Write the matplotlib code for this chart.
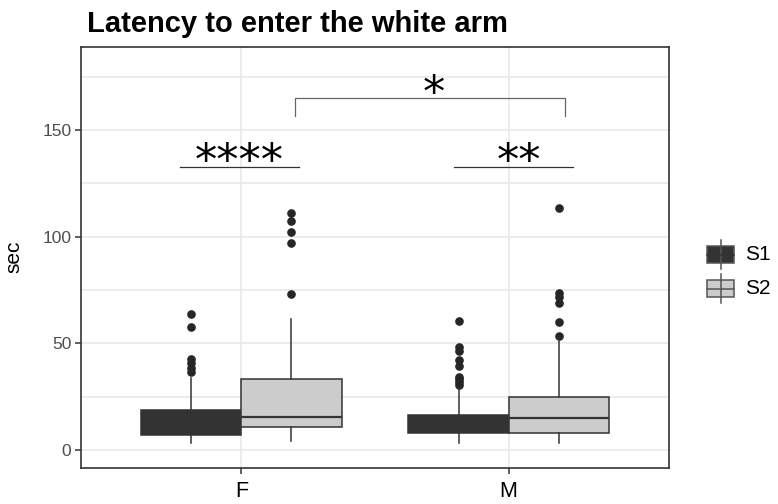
import matplotlib
matplotlib.use("Agg")
import matplotlib.pyplot as plt
from matplotlib.patches import Rectangle
from matplotlib.lines import Line2D

plt.rcParams['font.family'] = ['Liberation Sans', 'DejaVu Sans']

# ---- data ----
sexes = ["F", "M"]
sessions = ["S1", "S2"]
fill_colors = ["#333333", "#cccccc"]

# per box: [F-S1, F-S2, M-S1, M-S2]
q1 = [7.0, 10.9, 8.0, 8.0]
med = [11.0, 15.5, 12.0, 15.0]
q3 = [18.7, 33.3, 16.4, 24.8]
whislo = [3.3, 4.2, 3.3, 3.3]
whishi = [34.0, 61.4, 29.0, 52.5]
fliers = [
    [36.6, 38.4, 40.8, 42.7, 57.6, 64.0],
    [73.1, 97.0, 102.0, 107.4, 111.0],
    [30.5, 31.9, 33.3, 34.3, 39.4, 42.2, 46.4, 48.3, 60.5],
    [53.3, 60.0, 69.0, 71.9, 73.6, 113.5],
]

y_ticks = [0, 50, 100, 150]
y_minor = [25, 75, 125, 175]
title = "Latency to enter the white arm"
ylabel = "sec"

# significance annotations
within_labels = ["****", "**"]
within_line_y = 132.7
within_text_base = 129.0
between_label = "*"
bracket_top = 165.0
bracket_bottom = 156.7
between_text_base = 160.9

# ---- figure ----
fig = plt.figure(figsize=(7.78, 5.04), dpi=100)
ax = fig.add_axes([81/778, 1-468/504, (669-81)/778, (468-47)/504])

dodge = 0.1875
width = 0.375
stats = []
positions = []
for i, sx in enumerate(sexes):
    for j, ss in enumerate(sessions):
        k = i*2 + j
        stats.append(dict(q1=q1[k], med=med[k], q3=q3[k], whislo=whislo[k],
                          whishi=whishi[k], fliers=fliers[k]))
        positions.append(i + 1 + (j - 0.5) * 2 * dodge)

edge = "#333333"
bp = ax.bxp(stats, positions=positions, widths=width, patch_artist=True,
            showcaps=False, manage_ticks=False,
            boxprops=dict(edgecolor=edge, linewidth=1.1),
            whiskerprops=dict(color=edge, linewidth=1.1),
            medianprops=dict(color=edge, linewidth=1.6),
            flierprops=dict(marker='o', markerfacecolor='#262626', markeredgecolor='#262626',
                            markersize=5.2))
for k, patch in enumerate(bp['boxes']):
    patch.set_facecolor(fill_colors[k % 2])
    patch.set_zorder(3)
for l in bp['medians'] + bp['whiskers']:
    l.set_zorder(3)

ax.set_xlim(0.4, 2.6)
ax.set_ylim(-8.4, 188.9)
ax.set_xticks([1, 2])
ax.set_xticklabels(sexes, fontsize=15.5, color='black')
ax.set_yticks(y_ticks)
ax.set_yticks(y_minor, minor=True)
ax.set_yticklabels([str(t) for t in y_ticks], fontsize=12.5, color='#4d4d4d')
ax.tick_params(axis='both', which='major', length=4, width=1.1, color='#333333')
ax.tick_params(axis='y', which='minor', length=0)
ax.tick_params(axis='x', pad=5.5)
ax.tick_params(axis='y', pad=3)
ax.grid(True, which='major', color='#ebebeb', linewidth=1.3, zorder=0)
ax.grid(True, which='minor', axis='y', color='#ebebeb', linewidth=1.3, zorder=0)
ax.set_axisbelow(True)
for s in ax.spines.values():
    s.set_color('#333333')
    s.set_linewidth(1.2)

# annotations
star_kw = dict(ha='center', va='baseline', fontsize=32, color='black',
               family=['DejaVu Sans'])
ax.plot([0.77, 1.216], [within_line_y]*2, color='#333333', lw=0.9)
ax.text(0.992, within_text_base, within_labels[0], **star_kw)
ax.plot([1.795, 2.24], [within_line_y]*2, color='#333333', lw=0.9)
ax.text(2.04, within_text_base, within_labels[1], **star_kw)
ax.plot([1.20, 1.20, 2.21, 2.21], [bracket_bottom, bracket_top, bracket_top, bracket_bottom],
        color='#666666', lw=0.9)
ax.text(1.72, between_text_base, between_label, **star_kw)

# title and y label
fig.text(87/778, 1-32/504, title, fontsize=21, fontweight='bold', ha='left', va='baseline')
fig.text(14/778, 1-257/504, ylabel, fontsize=15, rotation=90, ha='center', va='center')

# legend (ggplot-style boxplot keys)
kx0, kx1 = 707/778, 734/778
kcx = (kx0 + kx1) / 2
for j, (lab, yc) in enumerate(zip(sessions, [254.5, 288.5])):
    y0 = 1 - (yc + 8.5)/504
    y1 = 1 - (yc - 8.5)/504
    kedge = '#555555'
    fig.add_artist(Line2D([kcx, kcx], [1-(yc+14.5)/504, 1-(yc-14.5)/504],
                          transform=fig.transFigure, color=kedge, lw=1.1))
    fig.add_artist(Rectangle((kx0, y0), kx1-kx0, y1-y0, transform=fig.transFigure,
                             facecolor=fill_colors[j], edgecolor=kedge, lw=1.1))
    fig.add_artist(Line2D([kx0, kx1], [1-yc/504]*2, transform=fig.transFigure,
                          color=fill_colors[0] if j == 0 else kedge, lw=1.1))
    fig.text(745/778, 1-yc/504, lab, fontsize=15, ha='left', va='center')

fig.savefig("out.png", dpi=100)
